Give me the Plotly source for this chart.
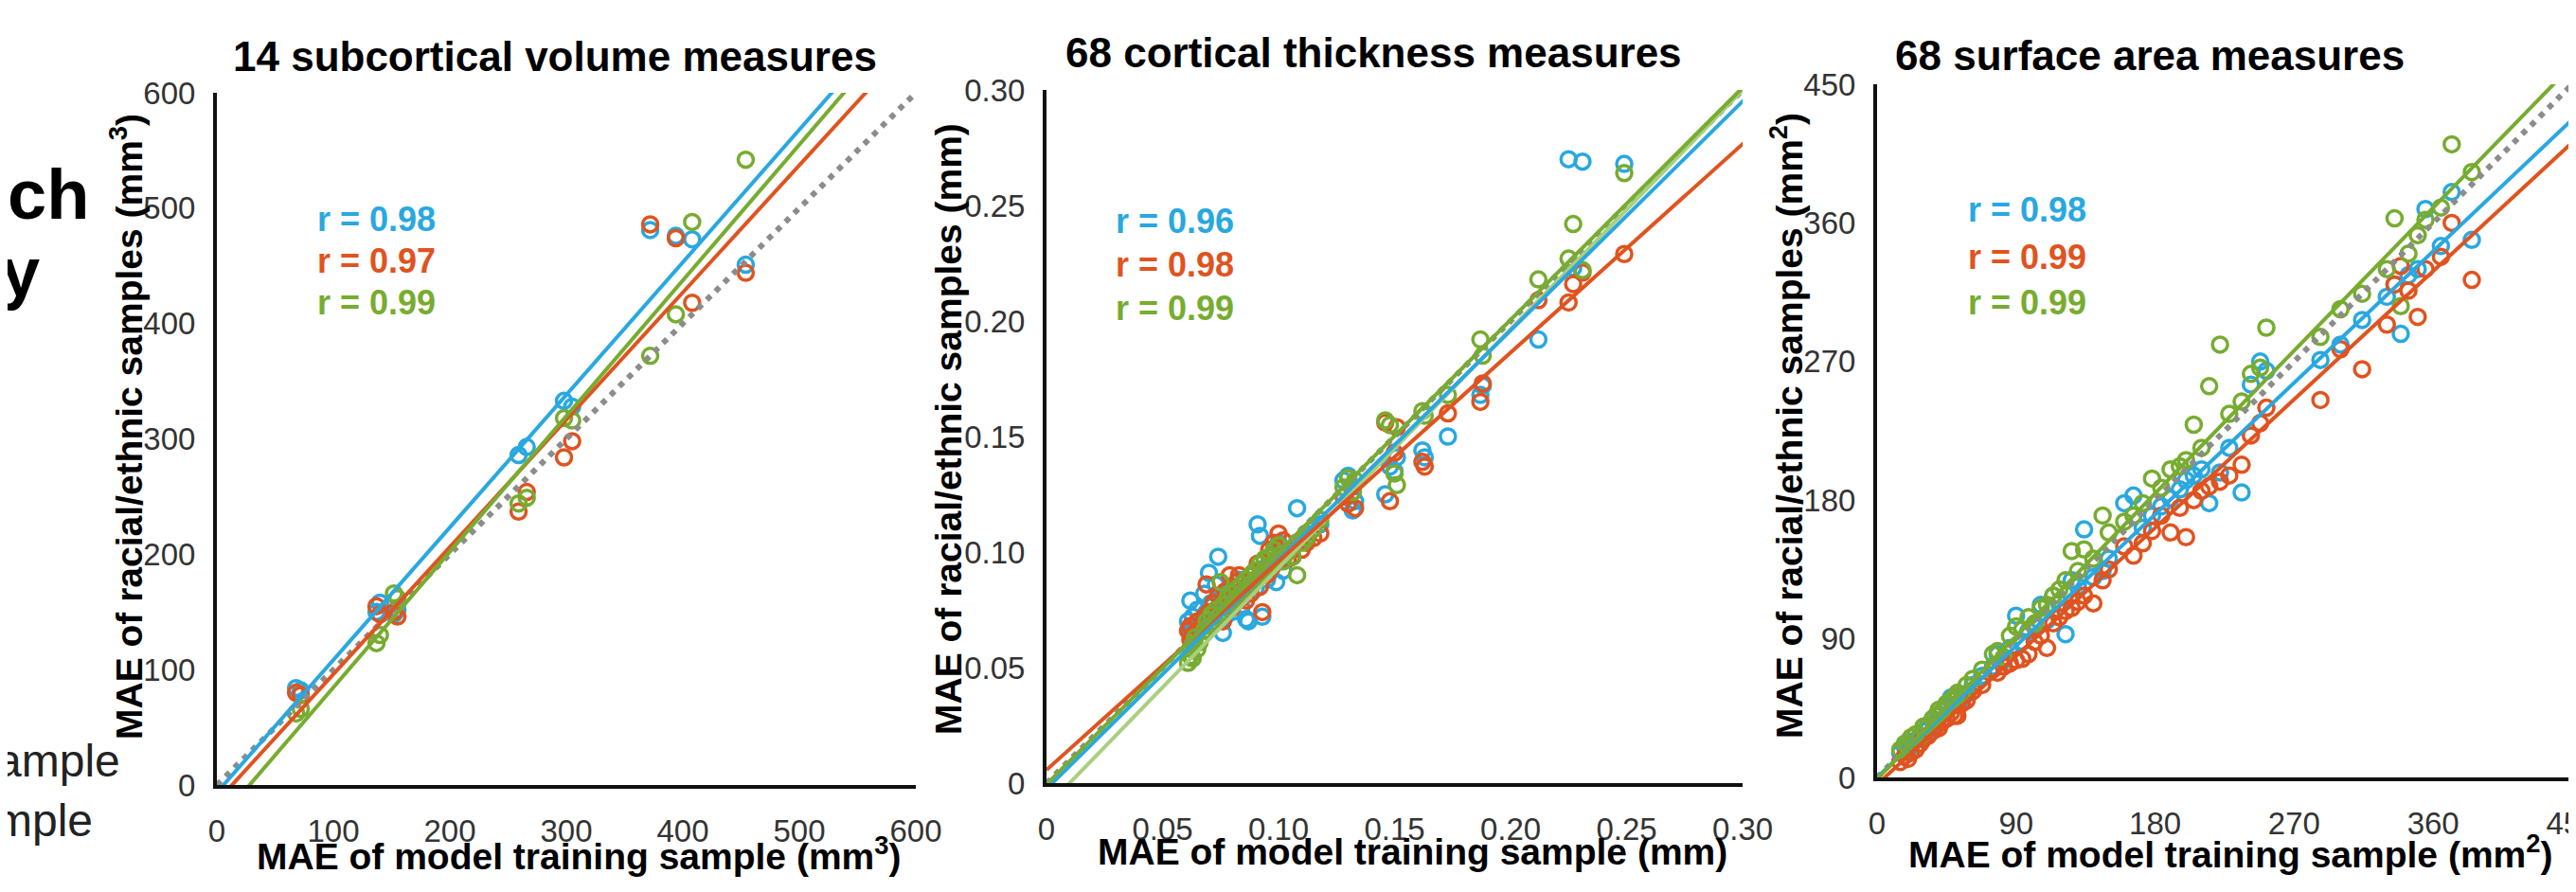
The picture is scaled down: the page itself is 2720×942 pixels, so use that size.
import plotly.graph_objects as go

# ---------------------------------------------------------------------------
# DATA
# ---------------------------------------------------------------------------
# panel 1 - 14 subcortical volume measures (mm3)
SUB_X = [68, 72, 137, 140, 152, 155, 259, 266, 298, 305, 372, 394, 408, 454]
SUB_BLUE = [84, 82, 150, 158, 148, 152, 286, 293, 333, 328, 481, 476, 473, 451]
SUB_ORANGE = [80, 78, 155, 148, 150, 146, 237, 254, 284, 298, 486, 474, 418, 444]
SUB_GREEN = [62, 66, 123, 130, 166, 162, 244, 249, 318, 316, 372, 408, 488, 542]
SUB_R = ["0.98", "0.97", "0.99"]
SUB_SLOPE = [1.149, 1.103, 1.176]
SUB_INTERCEPT = [-6.5, -14.3, -33.0]

# panel 2 - 68 cortical thickness measures (mm)
THK_X = [0.061, 0.062, 0.062, 0.063, 0.063, 0.064, 0.065, 0.066,
         0.068, 0.069, 0.070, 0.071, 0.072, 0.073, 0.074, 0.075, 0.076, 0.077, 0.078, 0.079, 0.080,
         0.081, 0.082, 0.083, 0.084, 0.085, 0.086, 0.087, 0.088, 0.089, 0.090, 0.091, 0.092, 0.093, 0.094, 0.095,
         0.096, 0.097, 0.098, 0.099, 0.100, 0.101, 0.102, 0.104, 0.106, 0.108, 0.110, 0.112,
         0.115, 0.118,
         0.128, 0.130, 0.132, 0.133,
         0.146, 0.148, 0.150, 0.151,
         0.162, 0.163, 0.173, 0.187, 0.188, 0.212, 0.225, 0.227, 0.231, 0.249]
THK_BLUE = [0.070, 0.079, 0.066, 0.072, 0.064, 0.068, 0.075, 0.070,
            0.082, 0.074, 0.091, 0.078, 0.070, 0.086, 0.098, 0.080, 0.065, 0.072, 0.083, 0.076, 0.074,
            0.085, 0.079, 0.088, 0.076, 0.082, 0.071, 0.070, 0.087, 0.090, 0.084, 0.112, 0.107, 0.072, 0.093, 0.088,
            0.091, 0.095, 0.099, 0.087, 0.104, 0.096, 0.092, 0.101, 0.098, 0.119, 0.105, 0.108,
            0.110, 0.112,
            0.131, 0.133, 0.118, 0.122,
            0.125, 0.137, 0.135, 0.141,
            0.144, 0.141, 0.150, 0.168, 0.172, 0.192, 0.270, 0.223, 0.269, 0.268]
THK_ORANGE = [0.066, 0.062, 0.068, 0.063, 0.060, 0.065, 0.070, 0.067,
              0.072, 0.086, 0.074, 0.069, 0.078, 0.075, 0.081, 0.077, 0.070, 0.083, 0.079, 0.090, 0.076,
              0.082, 0.087, 0.090, 0.080, 0.084, 0.079, 0.086, 0.082, 0.091, 0.088, 0.095, 0.085, 0.074, 0.097, 0.090,
              0.101, 0.093, 0.104, 0.096, 0.108, 0.099, 0.105, 0.097, 0.098, 0.104, 0.101, 0.104,
              0.106, 0.108,
              0.124, 0.121, 0.126, 0.119,
              0.156, 0.122, 0.143, 0.154,
              0.139, 0.137, 0.160, 0.165, 0.173, 0.209, 0.208, 0.216, 0.221, 0.229]
THK_GREEN = [0.052, 0.058, 0.055, 0.060, 0.054, 0.063, 0.058, 0.061,
             0.066, 0.070, 0.068, 0.073, 0.069, 0.075, 0.072, 0.087, 0.077, 0.074, 0.080, 0.076, 0.082,
             0.079, 0.084, 0.081, 0.086, 0.083, 0.088, 0.085, 0.090, 0.087, 0.092, 0.089, 0.095, 0.091, 0.097, 0.093,
             0.098, 0.094, 0.101, 0.097, 0.103, 0.099, 0.096, 0.100, 0.098, 0.090, 0.104, 0.106,
             0.110, 0.114,
             0.128, 0.132, 0.126, 0.131,
             0.157, 0.155, 0.134, 0.129,
             0.161, 0.159, 0.168, 0.192, 0.185, 0.218, 0.227, 0.242, 0.222, 0.264]
THK_R = ["0.96", "0.98", "0.99"]
THK_SLOPE = [0.992, 0.903, 1.005]
THK_INTERCEPT = [-0.0025, 0.0057, -0.0005]
THK_EXTRA_SLOPE = 1.034
THK_EXTRA_INTERCEPT = -0.0103

# panel 3 - 68 surface area measures (mm2)
SA_X = [15, 18, 20, 22, 25, 28, 30, 33, 36, 38, 40, 42, 45, 48, 50, 52, 55, 58,
        62, 68, 75, 78, 82, 86, 90, 94, 98, 102, 106, 110, 114, 118, 122, 126, 130, 134, 140, 146, 150,
        160, 166, 172, 178, 184, 190, 196, 200, 205, 210, 215, 222, 228, 236, 242, 248, 252,
        287, 300, 314, 330, 335, 339, 344, 350, 355, 365, 372, 385]
SA_BLUE = [16, 20, 17, 23, 24, 26, 30, 31, 38, 34, 41, 37, 46, 52, 47, 53, 50, 54,
           60, 66, 72, 80, 76, 84, 105, 88, 95, 98, 112, 102, 118, 113, 93, 128, 124, 161, 130, 134, 142,
           178, 183, 162, 170, 176, 181, 187, 193, 196, 200, 178, 198, 214, 185, 255, 270, 264,
           271, 281, 297, 312, 320, 288, 326, 330, 369, 345, 380, 349]
SA_ORANGE = [10, 14, 12, 16, 18, 22, 25, 27, 30, 33, 32, 36, 38, 42, 40, 40, 48, 50,
             56, 60, 70, 68, 72, 74, 76, 77, 80, 88, 92, 84, 100, 104, 108, 110, 114, 118, 113, 128, 135,
             150, 144, 152, 160, 170, 159, 175, 156, 180, 186, 189, 192, 196, 203, 222, 230, 240,
             245, 278, 265, 294, 320, 332, 316, 299, 330, 338, 360, 323]
SA_GREEN = [18, 22, 20, 26, 28, 27, 33, 34, 38, 40, 44, 43, 48, 50, 52, 55, 54, 60,
            64, 70, 80, 82, 78, 92, 98, 96, 104, 100, 110, 112, 118, 122, 128, 147, 134, 148, 142, 170, 159,
            166, 170, 178, 194, 188, 200, 202, 206, 229, 214, 254, 281, 236, 244, 262, 266, 292,
            286, 304, 314, 330, 363, 306, 340, 352, 362, 370, 411, 393]
SA_R = ["0.98", "0.99", "0.99"]
SA_SLOPE = [0.949, 0.926, 1.03]
SA_INTERCEPT = [0.0, -4.6, -1.0]

# ---------------------------------------------------------------------------
# STYLE
# ---------------------------------------------------------------------------
W, H = 2720, 942
FONT = "Arial, Liberation Sans, sans-serif"
BLUE = "#29A8E0"
ORANGE = "#E0531F"
GREEN = "#77AC30"
GREEN_LIGHT = "#A9CF80"
GREY = "#8C8C8C"
COLORS = [BLUE, ORANGE, GREEN]


def px(x):
    return x / W


def py(y):
    return 1 - y / H


PANELS = [
    dict(title="14 subcortical volume measures", unit="mm<sup>3</sup>",
         x=SUB_X, ys=[SUB_BLUE, SUB_ORANGE, SUB_GREEN], r=SUB_R,
         slope=SUB_SLOPE, intercept=SUB_INTERCEPT, xmax=600,
         ticks=[0, 100, 200, 300, 400, 500, 600],
         ticktext=["0", "100", "200", "300", "400", "500", "600"],
         box=(221, 959, 90, 821), title_xy=(578, 52), ytitle_xy=(125, 443),
         xtitle_xy=(603, 893), r_xy=(325, [223, 268, 312])),
    dict(title="68 cortical thickness measures", unit="mm",
         x=THK_X, ys=[THK_BLUE, THK_ORANGE, THK_GREEN], r=THK_R,
         slope=THK_SLOPE, intercept=THK_INTERCEPT, xmax=0.30,
         ticks=[0, 0.05, 0.10, 0.15, 0.20, 0.25, 0.30],
         ticktext=["0", "0.05", "0.10", "0.15", "0.20", "0.25", "0.30"],
         box=(1097, 1832, 87, 819), title_xy=(1442, 48), ytitle_xy=(993, 445),
         xtitle_xy=(1484, 891), r_xy=(1168, [225, 271, 317])),
    dict(title="68 surface area measures", unit="mm<sup>2</sup>",
         x=SA_X, ys=[SA_BLUE, SA_ORANGE, SA_GREEN], r=SA_R,
         slope=SA_SLOPE, intercept=SA_INTERCEPT, xmax=450,
         ticks=[0, 90, 180, 270, 360, 450],
         ticktext=["0", "90", "180", "270", "360", "450"],
         box=(1974, 2708, 81, 813), title_xy=(2262, 51), ytitle_xy=(1878, 442),
         xtitle_xy=(2347, 891), r_xy=(2068, [213, 264, 312])),
]

fig = go.Figure()
annotations = []
layout_axes = {}

for i, p in enumerate(PANELS, start=1):
    sfx = "" if i == 1 else str(i)
    xa, ya = "x" + sfx, "y" + sfx
    xmax = p["xmax"]

    # scatter points
    for color, ys in zip(COLORS, p["ys"]):
        fig.add_trace(go.Scatter(
            x=p["x"], y=ys, mode="markers", xaxis=xa, yaxis=ya,
            marker=dict(symbol="circle-open", size=16, color=color,
                        line=dict(width=3.5, color=color)),
            hoverinfo="skip"
        ))

    # identity line
    fig.add_trace(go.Scatter(
        x=[0, xmax], y=[0, xmax], mode="lines", xaxis=xa, yaxis=ya,
        line=dict(color=GREY, width=6, dash="6px,7px"), hoverinfo="skip"
    ))

    # extra pale green fit in the thickness panel
    if i == 2:
        fig.add_trace(go.Scatter(
            x=[0, xmax], y=[THK_EXTRA_INTERCEPT, THK_EXTRA_INTERCEPT + THK_EXTRA_SLOPE * xmax],
            mode="lines", xaxis=xa, yaxis=ya,
            line=dict(color=GREEN_LIGHT, width=4), hoverinfo="skip"
        ))

    # regression lines
    for color, a, b in zip(COLORS, p["slope"], p["intercept"]):
        fig.add_trace(go.Scatter(
            x=[0, xmax * 1.05], y=[b, b + a * xmax * 1.05], mode="lines",
            xaxis=xa, yaxis=ya, line=dict(color=color, width=4), hoverinfo="skip"
        ))

    x0, x1, y0, y1 = p["box"]
    common = dict(
        range=[0, xmax], tickvals=p["ticks"], ticktext=p["ticktext"],
        showline=True, linecolor="#111111", linewidth=4, mirror=False,
        showgrid=False, zeroline=False, ticks="outside", automargin=False,
        ticklabeloverflow="allow",
        tickcolor="rgba(0,0,0,0)", tickfont=dict(family=FONT, size=33, color="#333333"),
        fixedrange=True,
    )
    layout_axes["xaxis" + sfx] = dict(common, domain=[px(x0), px(x1)], anchor=ya, ticklen=16)
    layout_axes["yaxis" + sfx] = dict(common, domain=[py(y1), py(y0)], anchor=xa, ticklen=12)

    # titles
    tx, ty = p["title_xy"]
    annotations.append(dict(
        text=p["title"], x=px(tx), y=py(ty), xref="paper", yref="paper",
        xanchor="center", yanchor="middle", showarrow=False,
        font=dict(family=FONT, size=44, color="black", weight="bold")
    ))
    yx, yy = p["ytitle_xy"]
    annotations.append(dict(
        text=f"MAE of racial/ethnic samples ({p['unit']})", x=px(yx), y=py(yy),
        xref="paper", yref="paper", xanchor="center", yanchor="middle",
        textangle=-90, showarrow=False,
        font=dict(family=FONT, size=39, color="black", weight="bold")
    ))
    xx, xy = p["xtitle_xy"]
    annotations.append(dict(
        text=f"MAE of model training sample ({p['unit']})", x=px(xx), y=py(xy),
        xref="paper", yref="paper", xanchor="center", yanchor="middle",
        showarrow=False,
        font=dict(family=FONT, size=39, color="black", weight="bold")
    ))
    rx, rys = p["r_xy"]
    for color, rv, ry in zip(COLORS, p["r"], rys):
        annotations.append(dict(
            text=f"r = {rv}", x=px(rx), y=py(ry), xref="paper", yref="paper",
            xanchor="left", yanchor="middle", showarrow=False,
            font=dict(family=FONT, size=36, color=color, weight="bold")
        ))

# cut-off fragments of the neighbouring legend on the left edge
for txt, x, y, size, weight, color in [
    ("ch", 88, 197, 74, "bold", "black"),
    ("y", 36, 280, 74, "bold", "black"),
    ("ample", 121, 795, 48, "normal", "#222222"),
    ("mple", 92, 858, 48, "normal", "#222222"),
]:
    annotations.append(dict(
        text=txt, x=px(x), y=py(y), xref="paper", yref="paper",
        xanchor="right", yanchor="middle", showarrow=False,
        font=dict(family=FONT, size=size, color=color, weight=weight)
    ))

fig.update_layout(
    width=W, height=H,
    margin=dict(l=0, r=0, t=0, b=0),
    paper_bgcolor="white", plot_bgcolor="white",
    showlegend=False,
    annotations=annotations,
    **layout_axes
)

fig.write_html("out.html")
